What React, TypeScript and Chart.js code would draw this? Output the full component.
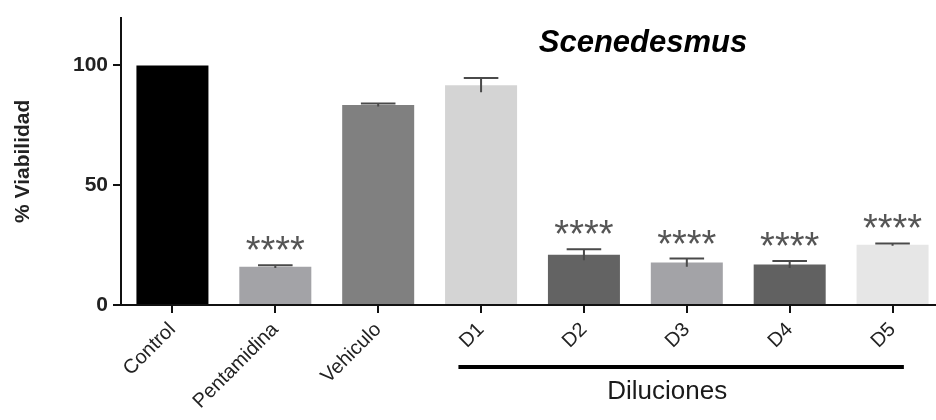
import React, { useEffect, useRef } from 'react';
import { Chart, registerables } from 'chart.js';

Chart.register(...registerables);

const categories = ['Control', 'Pentamidina', 'Vehiculo', 'D1', 'D2', 'D3', 'D4', 'D5'];
const viabilidad = [100, 16, 83.5, 91.8, 21, 17.7, 16.9, 25.2];
const errorSEM = [0, 0.6, 0.6, 3.0, 2.3, 1.7, 1.5, 0.5];
const significance = ['', '****', '', '', '****', '****', '****', '****'];
const barColors = ['#000000', '#a3a3a7', '#808080', '#d4d4d4', '#636363', '#a3a3a7', '#616161', '#e6e6e6'];
const yTickValues = [0, 50, 100];
const yMax = 120;
const chartTitle = 'Scenedesmus';
const yTitle = '% Viabilidad';
const groupLabel = 'Diluciones';
const groupFirst = 'D1';
const groupLast = 'D5';

const FONT = "'Liberation Sans', Arial, sans-serif";

const annotations = {
  id: 'annotations',
  afterDatasetsDraw(chart: any) {
    const ctx = chart.ctx;
    const y = chart.scales.y;
    const x = chart.scales.x;
    const meta = chart.getDatasetMeta(0);
    ctx.save();
    // error bars
    meta.data.forEach((bar: any, i: number) => {
      const err = errorSEM[i];
      if (!err) return;
      const v = viabilidad[i];
      const yTop = y.getPixelForValue(v + err);
      const yBot = y.getPixelForValue(v - err);
      const cx = bar.x;
      const capHalf = bar.width * 0.24;
      ctx.strokeStyle = '#4a4a4a';
      ctx.lineWidth = 2;
      ctx.beginPath();
      ctx.moveTo(cx, yBot);
      ctx.lineTo(cx, yTop);
      ctx.moveTo(cx - capHalf, yTop);
      ctx.lineTo(cx + capHalf, yTop);
      ctx.stroke();
    });
    // significance stars
    ctx.fillStyle = '#555555';
    ctx.font = `38px ${FONT}`;
    ctx.textAlign = 'center';
    ctx.textBaseline = 'alphabetic';
    meta.data.forEach((bar: any, i: number) => {
      const s = significance[i];
      if (!s) return;
      const yTop = y.getPixelForValue(viabilidad[i] + errorSEM[i]);
      ctx.fillText(s, bar.x, yTop - 2);
    });
    // title
    ctx.fillStyle = '#000';
    ctx.font = `italic bold 31px ${FONT}`;
    ctx.textAlign = 'center';
    ctx.textBaseline = 'middle';
    ctx.fillText(chartTitle, 643, 43);
    // group line
    const i1 = categories.indexOf(groupFirst);
    const i2 = categories.indexOf(groupLast);
    const cw = x.getPixelForValue(1) - x.getPixelForValue(0);
    const lx1 = x.getPixelForValue(i1) - cw * 0.22;
    const lx2 = x.getPixelForValue(i2) + cw * 0.11;
    ctx.strokeStyle = '#000';
    ctx.lineWidth = 4;
    ctx.beginPath();
    ctx.moveTo(lx1, 367);
    ctx.lineTo(lx2, 367);
    ctx.stroke();
    ctx.fillStyle = '#1a1a1a';
    ctx.font = `26px ${FONT}`;
    ctx.textAlign = 'center';
    ctx.textBaseline = 'middle';
    ctx.fillText(groupLabel, (lx1 + lx2) / 2 - 14, 392);
    ctx.restore();
  },
};

export default function App() {
  const ref = useRef<HTMLCanvasElement | null>(null);
  useEffect(() => {
    if (!ref.current) return;
    const chart = new Chart(ref.current, {
      type: 'bar',
      data: {
        labels: categories,
        datasets: [
          {
            data: viabilidad,
            backgroundColor: barColors,
            borderWidth: 0,
            categoryPercentage: 1,
            barPercentage: 0.7,
          },
        ],
      },
      options: {
        animation: false,
        responsive: false,
        devicePixelRatio: 1,
        layout: { padding: { top: 15, left: 0, right: 0, bottom: 0 } },
        plugins: { legend: { display: false }, tooltip: { enabled: false }, title: { display: false } },
        scales: {
          x: {
            offset: true,
            afterFit: (s: any) => {
              s.height = 115;
            },
            grid: {
              offset: false,
              drawOnChartArea: false,
              drawTicks: true,
              tickLength: 8,
              color: '#111',
              lineWidth: 2,
            },
            border: { display: true, color: '#111', width: 2 },
            ticks: {
              minRotation: 45,
              maxRotation: 45,
              padding: 5,
              color: '#222',
              font: { family: FONT, size: 20 },
            },
          },
          y: {
            min: 0,
            max: yMax,
            afterFit: (s: any) => {
              s.width = 121;
            },
            afterBuildTicks: (s: any) => {
              s.ticks = yTickValues.map((v) => ({ value: v }));
            },
            grid: {
              drawOnChartArea: false,
              drawTicks: true,
              tickLength: 8,
              color: '#111',
              lineWidth: 2,
            },
            border: { display: true, color: '#111', width: 2 },
            ticks: {
              padding: 5,
              color: '#222',
              font: { family: FONT, size: 21, weight: 'bold' },
            },
            title: {
              display: true,
              text: yTitle,
              color: '#222',
              padding: { top: 11, bottom: 0 },
              font: { family: FONT, size: 21, weight: 'bold' },
            },
          },
        },
      },
      plugins: [annotations],
    });
    return () => chart.destroy();
  }, []);
  return (
    <div
      style={{
        position: 'fixed',
        left: 0,
        top: 0,
        width: 936,
        height: 420,
        overflow: 'hidden',
        background: '#fff',
      }}
    >
      <canvas ref={ref} width={944} height={420} style={{ width: 944, height: 420, display: 'block' }} />
    </div>
  );
}
